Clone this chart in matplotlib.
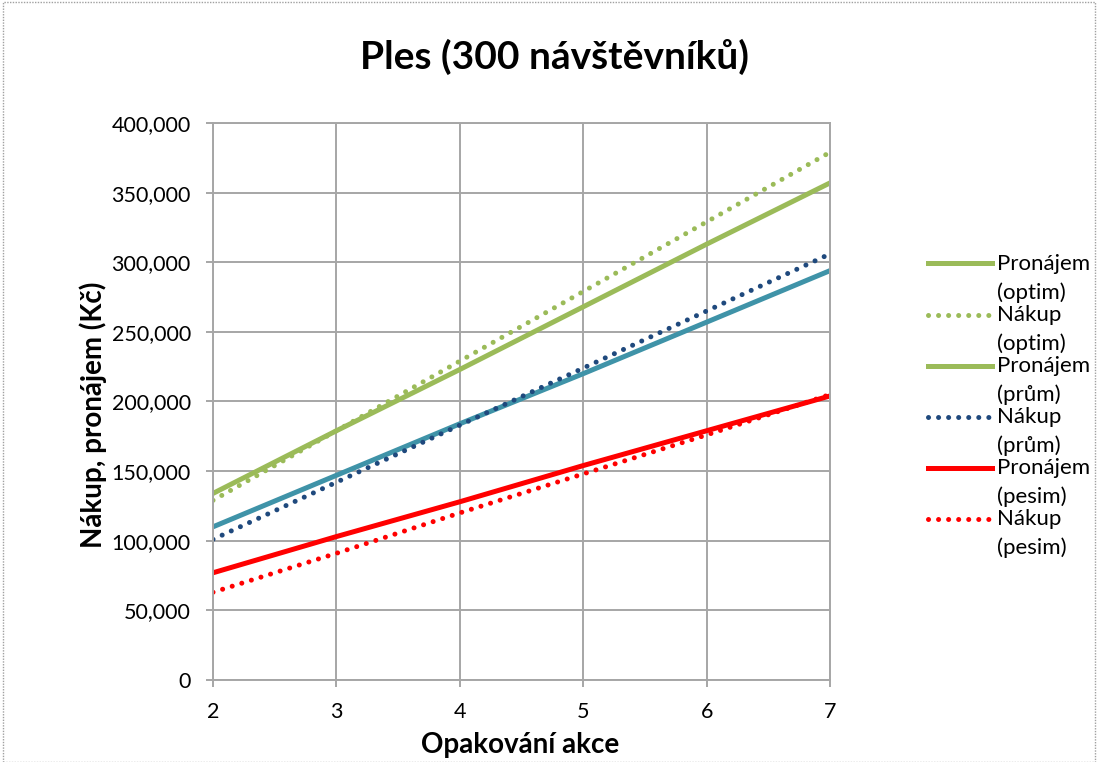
import numpy as np
import matplotlib.pyplot as plt
from matplotlib.legend_handler import HandlerLine2D
from matplotlib.patches import Rectangle
from matplotlib.ticker import FuncFormatter
import matplotlib.transforms as mtransforms

plt.rcParams['font.family'] = ['Lato', 'DejaVu Sans']

# Data (Kč) podle počtu opakování akce
opakovani = [2, 3, 4, 5, 6, 7]
pronajem_optim = [134000, 179000, 223000, 268000, 313000, 357000]
nakup_optim = [129000, 179000, 229000, 279000, 329000, 379000]
pronajem_prum = [110000, 147000, 184000, 220000, 257000, 294000]
nakup_prum = [101000, 142000, 183000, 224000, 265000, 306000]
pronajem_pesim = [77000, 103000, 128000, 154000, 179000, 204000]
nakup_pesim = [63000, 91000, 120000, 148000, 176000, 205000]

zelena = '#9BBB59'
modra = '#3F93A8'
tmava = '#1F497D'
cervena = '#FF0000'

fig = plt.figure(figsize=(10.98, 7.62), dpi=100)
ax = fig.add_axes([0.194, 0.1076, 0.562, 0.731])

tecky = (0, (0.01, 2.0))
lw = 3.6
ax.plot(opakovani, pronajem_optim, color=zelena, lw=lw, label='Pronájem\n(optim)')
ax.plot(opakovani, nakup_optim, color=zelena, lw=lw, ls=tecky, dash_capstyle='round',
        label='Nákup\n(optim)')
ax.plot(opakovani, pronajem_prum, color=modra, lw=lw, label='Pronájem\n(prům)')
ax.plot(opakovani, nakup_prum, color=tmava, lw=lw, ls=tecky, dash_capstyle='round',
        label='Nákup\n(prům)')
ax.plot(opakovani, pronajem_pesim, color=cervena, lw=lw, label='Pronájem\n(pesim)')
ax.plot(opakovani, nakup_pesim, color=cervena, lw=lw, ls=tecky, dash_capstyle='round',
        label='Nákup\n(pesim)')

ax.set_xlim(2, 7)
ax.set_ylim(0, 400000)
ax.set_xticks(opakovani)
ax.set_yticks(np.arange(0, 400001, 50000))
ax.yaxis.set_major_formatter(FuncFormatter(lambda v, p: f"{int(v):,}"))
ax.grid(True, color='#A6A6A6', lw=1.4)
ax.set_axisbelow(True)
for s in ax.spines.values():
    s.set_color('#A6A6A6')
    s.set_linewidth(1.4)
ax.tick_params(colors='#A6A6A6', length=5, width=1.4, labelcolor='black', labelsize=15.5)
ax.tick_params(axis='y', pad=11)
ax.tick_params(axis='x', pad=11)


# handle posunutý k prvnímu řádku popisku (jako v Excelu)
class HandlerNahoru(HandlerLine2D):
    def create_artists(self, legend, orig_handle, xdescent, ydescent, width, height,
                       fontsize, trans):
        t = mtransforms.Affine2D().translate(0, fontsize * 0.68) + trans
        return super().create_artists(legend, orig_handle, xdescent, ydescent,
                                      width, height, fontsize, t)


handles, labels = ax.get_legend_handles_labels()
leg = fig.legend(handles, labels, loc='upper left', bbox_to_anchor=(0.827, 0.693),
                 frameon=False, fontsize=16, handlelength=2.9, handletextpad=0.2,
                 labelspacing=0.1, handler_map={plt.Line2D: HandlerNahoru()})
for t in leg.get_texts():
    t.set_linespacing(1.5)
# v legendě je prům. pronájem zelený
leg.legend_handles[2].set_color(zelena)

fig.text(0.505, 0.925, 'Ples (300 návštěvníků)', ha='center', va='center',
         fontsize=28, fontweight='bold')
fig.text(0.085, 0.455, 'Nákup, pronájem (Kč)', ha='center', va='center', rotation=90,
         fontsize=20, fontweight='bold')
fig.text(0.474, 0.022, 'Opakování akce', ha='center', va='center',
         fontsize=20, fontweight='bold')

fig.patches.append(Rectangle((0.003, 0.0), 0.994, 0.997, transform=fig.transFigure,
                             fill=False, ec='#A0A0A0', lw=1, ls=(0, (1, 1))))

fig.savefig('out.png', dpi=100)
